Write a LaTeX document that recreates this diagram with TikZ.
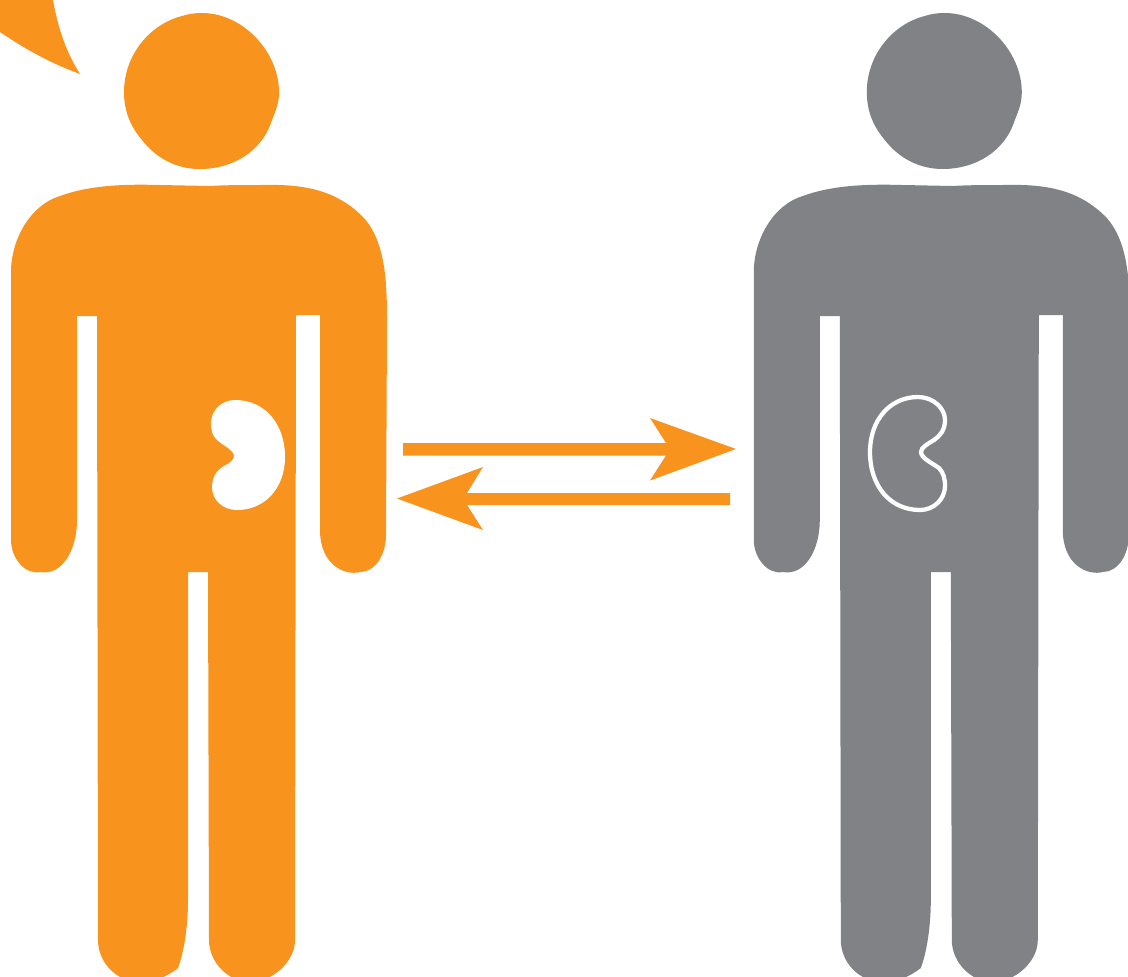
\documentclass[tikz,border=0pt]{standalone}
\definecolor{personorange}{HTML}{F8941E}
\definecolor{persongray}{HTML}{808285}
\newcommand{\personshape}[1]{%
  % head
  \fill[#1] (182,16) .. controls (188,14) and (194,13) .. (202,13)
    .. controls (243,13) and (279,52) .. (279,92)
    .. controls (279,103) and (276,110) .. (272,120)
    .. controls (262,152) and (232,169) .. (200,169)
    .. controls (176,169) and (156,158) .. (142,140)
    .. controls (131,127) and (124,112) .. (124,92)
    .. controls (124,55) and (150,24) .. (182,16) -- cycle;
  % body
  \fill[#1] (11,272) .. controls (11,240) and (30,205) .. (60,196)
    .. controls (90,185) and (125,184) .. (160,185)
    -- (210,186)
    .. controls (225,185) and (245,185) .. (260,185)
    .. controls (300,184) and (335,188) .. (364,218)
    .. controls (385,242) and (387,280) .. (387,320)
    -- (386,535)
    .. controls (386,555) and (375,572) .. (360,572)
    .. controls (345,576) and (320,565) .. (320,530)
    -- (320,315) -- (296,315) -- (295,940)
    .. controls (295,962) and (272,982) .. (250,982)
    .. controls (228,982) and (209,962) .. (209,940)
    -- (208,572) -- (188,572) -- (188,900)
    .. controls (188,930) and (183,955) .. (178,968)
    .. controls (168,976) and (155,982) .. (140,982)
    .. controls (116,982) and (98,962) .. (98,940)
    -- (97,316) -- (77,316) -- (77,520)
    .. controls (77,550) and (62,576) .. (40,572)
    .. controls (25,575) and (11,558) .. (11,540)
    -- cycle;
}
\begin{document}
\begin{tikzpicture}[x=0.75pt,y=-0.75pt]
\useasboundingbox (0,0) rectangle (1128,976);
\clip (0,0) rectangle (1128,976);
% corner fragment
\fill[personorange] (0,0) -- (53,0) .. controls (58,28) and (66,52) .. (80,74)
  .. controls (50,63) and (25,49) .. (0,32) -- cycle;
% orange person
\personshape{personorange}
% filled kidney
\fill[white] (235,400) .. controls (265,400) and (285,424) .. (285,457)
  .. controls (285,488) and (265,510) .. (237,510)
  .. controls (223,510) and (212,500) .. (212,487)
  .. controls (212,477) and (217,470) .. (224,466)
  .. controls (230,463) and (234,460) .. (234,456)
  .. controls (234,450) and (222,445) .. (216,439)
  .. controls (212,435) and (211,429) .. (211,423)
  .. controls (211,410) and (222,400) .. (235,400) -- cycle;
% gray person
\begin{scope}[xshift=557.1pt]
\personshape{persongray}
\end{scope}
% outlined kidney
\draw[white,line width=3.2pt] (918,397) .. controls (933,397) and (945,408) .. (945,420)
  .. controls (945,430) and (940,436) .. (934,440)
  .. controls (928,444) and (921,447) .. (921,452)
  .. controls (921,458) and (932,463) .. (939,468)
  .. controls (943,472) and (945,478) .. (945,486)
  .. controls (945,499) and (934,510) .. (920,510)
  .. controls (890,510) and (870,486) .. (870,452)
  .. controls (870,420) and (890,397) .. (918,397) -- cycle;
% arrows
\fill[personorange] (403,443) -- (666,443) -- (650,418) -- (736,449) -- (650,480.5)
  -- (666,455.5) -- (403,455.5) -- cycle;
\fill[personorange] (730,493) -- (467,493) -- (483,467) -- (397,498.5) -- (483,530)
  -- (467,505) -- (730,505) -- cycle;
\end{tikzpicture}
\end{document}
